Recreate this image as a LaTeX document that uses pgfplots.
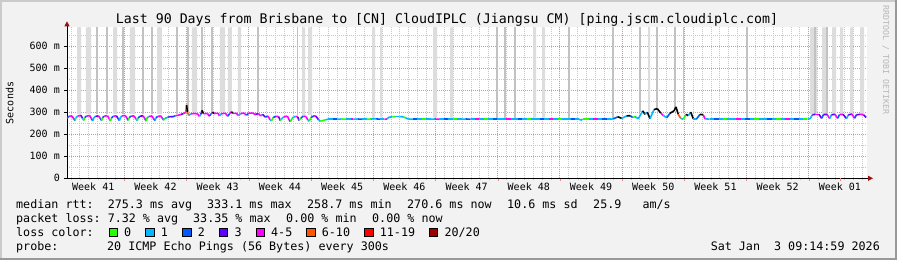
\documentclass[border=0pt]{standalone}
\usepackage{pgfplots}
\pgfplotsset{compat=1.18}
\usepackage{pgfplotstable}
\usepackage{fontspec}
\setmainfont{DejaVu Sans Mono}
\usetikzlibrary{arrows.meta}
\definecolor{bg}{HTML}{F2F2F2}
\definecolor{shadeA}{HTML}{CBCBCB}
\definecolor{shadeB}{HTML}{999999}
\definecolor{mgrid}{RGB}{238,140,140}
\definecolor{sgrid}{RGB}{200,200,200}
\definecolor{arrowred}{RGB}{150,20,20}
\definecolor{smokeL}{HTML}{DDDDDD}
\definecolor{smokeD}{HTML}{C2C2C2}
\definecolor{rrdgray}{HTML}{B8B8B8}
\definecolor{lc0}{RGB}{38,255,0}
\definecolor{lc1}{RGB}{0,184,255}
\definecolor{lc2}{RGB}{0,89,255}
\definecolor{lc3}{RGB}{94,0,255}
\definecolor{lc4}{RGB}{255,0,255}
\definecolor{lc5}{RGB}{255,85,0}
\definecolor{lc6}{RGB}{255,0,0}
\definecolor{lc7}{RGB}{161,0,0}

\pgfplotstableread{
x y c
0.00 272 2
0.20 281 4
0.55 283 4
0.75 271 2
0.90 262 0
1.00 275 1
1.20 282 4
1.55 286 3
1.75 272 1
1.90 263 0
2.00 276 2
2.20 282 4
2.55 285 4
2.75 270 2
2.90 261 1
3.00 274 1
3.20 281 3
3.55 283 4
3.75 271 2
3.90 262 0
4.00 275 2
4.20 282 4
4.55 284 4
4.75 270 1
4.90 260 0
5.00 274 2
5.20 281 4
5.55 284 3
5.75 271 2
5.90 262 1
6.00 276 1
6.20 283 4
6.55 285 4
6.75 272 2
6.90 263 0
7.00 275 2
7.20 282 4
7.55 283 4
7.75 270 1
7.90 261 0
8.00 274 2
8.20 281 3
8.55 284 4
8.75 271 2
8.90 260 0
9.00 273 1
9.20 280 4
9.55 283 4
9.75 270 2
9.90 262 1
10.00 274 2
10.20 281 4
10.55 283 4
10.75 271 2
10.90 264 0
11.00 272 1
11.30 276 2
11.60 280 3
11.90 279 2
12.20 284 4
12.50 286 4
12.80 289 3
13.10 294 4
13.35 298 5
13.45 333 8
13.55 300 5
13.70 285 1
13.90 292 4
14.30 294 4
14.70 292 4
14.90 281 1
15.05 290 3
15.20 308 8
15.35 293 4
15.80 294 4
16.00 282 2
16.20 292 4
16.40 300 8
16.55 294 4
17.00 295 4
17.15 283 1
17.35 293 4
17.80 295 4
18.10 282 2
18.30 294 4
18.50 302 8
18.65 295 4
19.10 294 4
19.30 284 1
19.50 293 4
19.90 296 4
20.20 286 2
20.40 295 4
20.90 296 4
21.20 289 3
21.50 294 4
21.80 283 1
22.00 290 3
22.30 278 2
22.60 282 4
22.85 266 1
23.00 260 0
23.20 276 2
23.50 281 4
23.80 280 3
24.00 262 0
24.15 270 1
24.40 279 4
24.80 282 4
25.00 264 2
25.15 258 0
25.35 274 1
25.70 281 4
25.95 279 3
26.10 262 0
26.30 273 2
26.60 282 4
26.90 280 4
27.10 264 1
27.25 259 0
27.45 276 2
27.80 283 4
28.00 282 3
28.30 266 1
28.50 259 0
28.80 262 0
29.10 266 1
29.40 268 1
29.90 268 2
30.40 268 1
30.90 269 0
31.40 268 1
31.90 268 4
32.20 268 1
32.70 269 2
33.20 268 1
33.70 268 0
34.20 269 1
34.70 270 2
35.20 268 1
35.70 268 4
36.00 269 1
36.20 277 1
36.60 279 0
37.00 280 1
37.40 280 1
37.80 279 0
38.10 274 1
38.40 269 1
38.90 268 2
39.40 268 1
39.90 268 0
40.40 268 1
40.90 268 1
41.40 269 4
41.90 268 1
42.40 268 2
42.90 268 1
43.40 268 0
43.90 268 1
44.40 268 1
44.90 269 2
45.40 268 1
45.90 268 4
46.40 268 1
46.90 268 0
47.40 268 1
47.90 268 2
48.40 268 1
48.90 268 1
49.40 268 4
49.90 268 1
50.40 268 1
50.70 268 2
51.20 268 1
51.70 268 0
52.20 268 1
52.70 268 1
53.20 268 2
53.70 268 1
54.20 268 4
54.70 268 1
55.20 268 0
55.70 268 1
56.20 268 1
56.70 268 2
57.20 268 1
57.60 268 1
57.80 264 1
58.00 268 0
58.70 268 1
59.20 268 4
59.70 268 1
60.20 268 2
60.70 268 1
61.20 268 1
61.46 270 2
61.99 279 8
62.40 272 1
62.96 283 8
63.34 284 2
63.64 276 0
63.90 280 1
64.27 270 1
64.77 306 8
65.02 290 1
65.28 300 8
65.59 271 1
66.04 312 8
66.41 316 8
66.79 296 4
67.08 285 1
67.47 275 2
67.84 295 8
68.29 306 8
68.51 324 8
68.77 290 5
69.04 272 1
69.33 268 0
69.64 290 8
69.89 284 1
70.17 300 8
70.46 270 1
70.84 270 2
71.21 290 8
71.58 288 4
71.77 270 1
72.30 268 1
72.80 268 2
73.30 268 1
73.80 268 0
74.30 268 1
74.80 268 1
75.30 268 4
75.80 268 1
76.30 268 2
76.80 268 1
77.30 268 0
77.80 268 1
78.30 268 1
78.80 268 2
79.30 268 1
79.80 268 0
80.30 268 1
80.80 268 4
81.30 268 1
81.80 268 2
82.30 268 1
82.80 268 0
83.30 268 1
83.60 270 1
83.85 288 3
84.20 290 4
84.60 290 3
84.90 272 2
85.10 289 3
85.50 290 4
85.80 271 1
86.00 288 3
86.40 290 4
86.70 272 2
86.90 289 4
87.30 290 3
87.70 271 1
87.90 288 3
88.30 291 4
88.60 272 2
88.80 288 3
89.20 290 4
89.60 289 3
89.90 276 2
}\median

\pgfplotstableread{
x y
1.125 292
1.125 685
1.575 685
1.575 292
nan nan
2.137 292
2.137 685
2.700 685
2.700 292
nan nan
5.175 292
5.175 685
5.625 685
5.625 292
nan nan
7.087 292
7.087 685
7.650 685
7.650 292
nan nan
10.125 292
10.125 685
10.687 685
10.687 292
nan nan
14.062 300
14.062 685
14.625 685
14.625 300
nan nan
17.212 300
17.212 685
17.775 685
17.775 300
nan nan
18.112 300
18.112 685
18.562 685
18.562 300
nan nan
19.237 300
19.237 685
19.575 685
19.575 300
nan nan
26.437 288
26.437 685
26.775 685
26.775 288
nan nan
27.112 288
27.112 685
27.562 685
27.562 288
nan nan
34.312 275
34.312 685
34.650 685
34.650 275
nan nan
35.212 275
35.212 685
35.437 685
35.437 275
nan nan
41.175 275
41.175 685
41.625 685
41.625 275
nan nan
43.087 275
43.087 685
43.425 685
43.425 275
nan nan
52.425 275
52.425 685
52.762 685
52.762 275
nan nan
53.437 275
53.437 685
53.775 685
53.775 275
nan nan
65.362 295
65.362 685
65.587 685
65.587 295
nan nan
83.587 292
83.587 685
84.375 685
84.375 292
nan nan
84.937 292
84.937 685
85.500 685
85.500 292
nan nan
86.062 292
86.062 685
86.512 685
86.512 292
nan nan
86.962 292
86.962 685
87.300 685
87.300 292
nan nan
88.087 292
88.087 685
88.425 685
88.425 292
nan nan
89.212 292
89.212 685
89.662 685
89.662 292
}\smokelight

\pgfplotstableread{
x y
3.375 290
3.375 685
nan nan
4.500 290
4.500 685
nan nan
6.300 290
6.300 685
nan nan
8.550 290
8.550 685
nan nan
9.562 290
9.562 685
nan nan
12.375 292
12.375 685
nan nan
13.612 300
13.612 685
nan nan
15.187 300
15.187 685
nan nan
16.312 300
16.312 685
nan nan
21.487 300
21.487 685
nan nan
25.900 285
25.900 685
nan nan
48.375 272
48.375 685
nan nan
49.275 272
49.275 685
nan nan
50.400 272
50.400 685
nan nan
56.475 272
56.475 685
nan nan
61.425 275
61.425 685
nan nan
64.462 300
64.462 685
nan nan
66.375 310
66.375 685
nan nan
68.400 310
68.400 685
nan nan
69.400 300
69.400 685
nan nan
76.500 272
76.500 685
nan nan
84.150 292
84.150 685
nan nan
85.500 292
85.500 685
}\smokedark

\newcommand\lgf{\fontsize{11.7bp}{14bp}\selectfont}
\newcommand\lbox[2]{\filldraw[fill=#2,draw=black,line width=0.8bp] (#1,23.6) rectangle ++(8.3,8.3);}

\begin{document}
\begin{tikzpicture}[x=1bp,y=1bp]
\useasboundingbox (0,0) rectangle (897,260);
\fill[bg] (0,0) rectangle (897,260);
\fill[shadeA] (0,258) rectangle (897,260);
\fill[shadeA] (0,0) rectangle (2,260);
\fill[shadeB] (0,0) rectangle (897,2);
\fill[shadeB] (895,0) rectangle (897,260);

\begin{axis}[
  at={(67bp,81.7bp)}, anchor=south west,
  scale only axis, width=800bp, height=151bp,
  xmin=0, xmax=90, ymin=0, ymax=685,
  axis background/.style={fill=white},
  axis x line=bottom, axis y line=left,
  x axis line style={black, line width=0.8bp, -{Triangle[length=5bp,width=5bp,color=arrowred]}, shorten >=-6bp},
  y axis line style={black, line width=0.8bp, -{Triangle[length=5bp,width=5bp,color=arrowred]}, shorten >=-6bp},
  tick align=outside,
  major tick length=3bp, minor tick length=2bp,
  xtick={6.45,13.45,20.45,27.45,34.45,41.45,48.45,55.45,62.45,69.45,76.45,83.45},
  xticklabels={Week 41,Week 42,Week 43,Week 44,Week 45,Week 46,Week 47,Week 48,Week 49,Week 50,Week 51,Week 52},
  xmajorgrids=true,
  every major x tick/.append style={draw=mgrid},
  minor xtick={0.45,1.45,...,89.45},
  every minor x tick/.append style={draw=sgrid},
  extra x ticks={86.95},
  extra x tick labels={Week 01},
  extra x tick style={xmajorgrids=false, tick style={draw=none}, xticklabel style={xshift=31.1bp}},
  xminorgrids=true,
  ytick={0,100,...,600},
  yticklabels={0,100 m,200 m,300 m,400 m,500 m,600 m},
  minor ytick={50,150,...,650},
  ymajorgrids=true, yminorgrids=true,
  every minor y tick/.append style={draw=none},
  every major y tick/.append style={draw=black, line width=0.8bp},
  major grid style={draw=mgrid, line width=0.8bp, dash pattern=on 1bp off 1bp},
  minor grid style={draw=sgrid, line width=0.8bp, dash pattern=on 1bp off 1bp},
  ticklabel style={font=\fontsize{10bp}{12bp}\selectfont},
  yticklabel style={anchor=east, inner sep=0pt, xshift=-4bp},
  xticklabel style={anchor=north, inner sep=0pt, yshift=-1.5bp, xshift=-31.1bp},
  colormap={loss}{rgb255=(38,255,0) rgb255=(0,184,255) rgb255=(0,89,255) rgb255=(94,0,255) rgb255=(255,0,255) rgb255=(255,85,0) rgb255=(255,0,0) rgb255=(161,0,0) rgb255=(0,0,0)},
  colormap access=direct,
  clip=true,
]
\addplot[fill=smokeL, draw=none, unbounded coords=jump] table[x=x,y=y] {\smokelight};
\addplot[draw=smokeD, line width=1.2bp, unbounded coords=jump] table[x=x,y=y] {\smokedark};
\addplot[mesh, shader=flat corner, point meta=explicit, line width=1.6bp] table[x=x,y=y,meta=c] {\median};
\end{axis}

\node[anchor=base, inner sep=0pt] at (447,236.7) {\fontsize{13.25bp}{16bp}\selectfont Last 90 Days from Brisbane to [CN] CloudIPLC (Jiangsu CM) [ping.jscm.cloudiplc.com]};
\node[anchor=base, rotate=90, inner sep=0pt] at (13.3,157) {\fontsize{10bp}{12bp}\selectfont Seconds};
\node[anchor=base, rotate=-90, inner sep=0pt, text=rrdgray] at (883,200) {\fontsize{8.3bp}{10bp}\selectfont RRDTOOL / TOBI OETIKER};

\node[anchor=base west, inner sep=0pt] at (16,51.7) {\lgf median rtt:~~275.3 ms avg};
\node[anchor=base west, inner sep=0pt] at (207,51.7) {\lgf 333.1 ms max};
\node[anchor=base west, inner sep=0pt] at (307,51.7) {\lgf 258.7 ms min};
\node[anchor=base west, inner sep=0pt] at (407,51.7) {\lgf 270.6 ms now};
\node[anchor=base west, inner sep=0pt] at (507,51.7) {\lgf 10.6 ms sd};
\node[anchor=base west, inner sep=0pt] at (593,51.7) {\lgf 25.9~~~am/s};

\node[anchor=base west, inner sep=0pt] at (16,38) {\lgf packet loss:~7.32 \% avg};
\node[anchor=base west, inner sep=0pt] at (193,38) {\lgf 33.35 \% max};
\node[anchor=base west, inner sep=0pt] at (286,38) {\lgf 0.00 \% min};
\node[anchor=base west, inner sep=0pt] at (372,38) {\lgf 0.00 \% now};

\node[anchor=base west, inner sep=0pt] at (16,24) {\lgf loss color:};
\lbox{109}{lc0}
\node[anchor=base west, inner sep=0pt] at (124,24) {\lgf 0};
\lbox{145.7}{lc1}
\node[anchor=base west, inner sep=0pt] at (160.7,24) {\lgf 1};
\lbox{182.7}{lc2}
\node[anchor=base west, inner sep=0pt] at (197.7,24) {\lgf 2};
\lbox{219.3}{lc3}
\node[anchor=base west, inner sep=0pt] at (234.3,24) {\lgf 3};
\lbox{256}{lc4}
\node[anchor=base west, inner sep=0pt] at (271,24) {\lgf 4-5};
\lbox{306.7}{lc5}
\node[anchor=base west, inner sep=0pt] at (321.7,24) {\lgf 6-10};
\lbox{364.7}{lc6}
\node[anchor=base west, inner sep=0pt] at (379.7,24) {\lgf 11-19};
\lbox{429.4}{lc7}
\node[anchor=base west, inner sep=0pt] at (444.4,24) {\lgf 20/20};

\node[anchor=base west, inner sep=0pt] at (16,10) {\lgf probe:};
\node[anchor=base west, inner sep=0pt] at (107,10) {\lgf 20 ICMP Echo Pings (56 Bytes) every 300s};
\node[anchor=base east, inner sep=0pt] at (880,10) {\lgf Sat Jan~~3 09:14:59 2026};
\end{tikzpicture}
\end{document}
